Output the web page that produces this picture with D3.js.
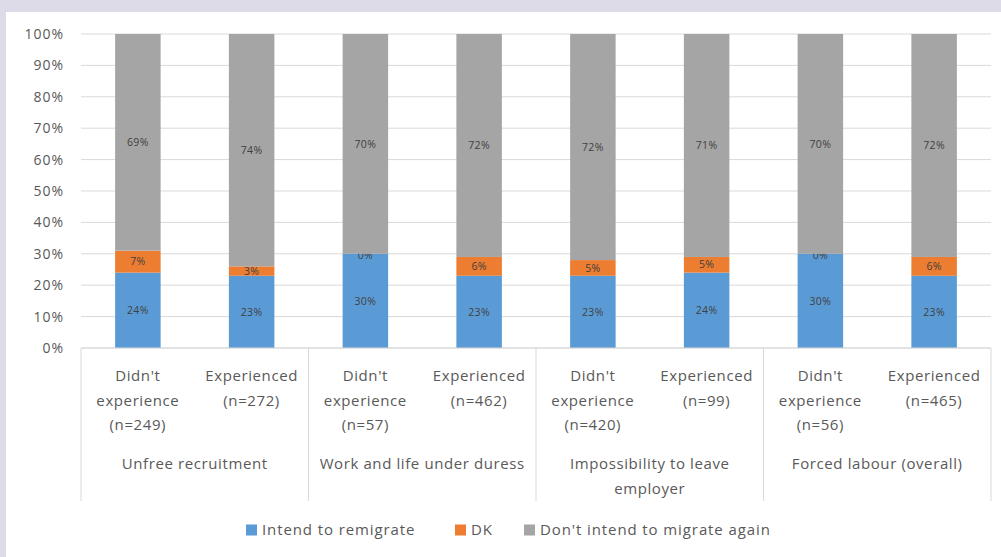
<!DOCTYPE html>
<html>
<head>
<meta charset="utf-8">
<script src="https://cdn.jsdelivr.net/npm/d3@7"></script>
<style>
  body { margin: 0; background: #dddbe7; }
  svg { display: block; }
</style>
</head>
<body>
<svg id="chart" width="1001" height="557"></svg>
<script>
// data
const bars = ["UR-no", "UR-yes", "WL-no", "WL-yes", "IL-no", "IL-yes", "FL-no", "FL-yes"];
const barLabels = [
  ["Didn't", "experience", "(n=249)"], ["Experienced", "(n=272)"],
  ["Didn't", "experience", "(n=57)"], ["Experienced", "(n=462)"],
  ["Didn't", "experience", "(n=420)"], ["Experienced", "(n=99)"],
  ["Didn't", "experience", "(n=56)"], ["Experienced", "(n=465)"]
];
const groups = [
  ["Unfree recruitment"], ["Work and life under duress"],
  ["Impossibility to leave", "employer"], ["Forced labour (overall)"]
];
const intend = [24, 23, 30, 23, 23, 24, 30, 23];
const dk = [7, 3, 0, 6, 5, 5, 0, 6];
const notIntend = [69, 74, 70, 72, 72, 71, 70, 72];
const seriesNames = ["Intend to remigrate", "DK", "Don't intend to migrate again"];
const colors = ["#5b9bd5", "#ed7d31", "#a5a5a5"];
const yTicks = [0, 10, 20, 30, 40, 50, 60, 70, 80, 90, 100];

const svg = d3.select("#chart");
const font = "'Open Sans', sans-serif";

// white panel
svg.append("rect").attr("x", 6).attr("y", 12).attr("width", 995).attr("height", 545).attr("fill", "#fff");

const margin = {left: 81, right: 10, top: 34, bottom: 209};
const W = 1001, H = 557;
const x = d3.scaleBand().domain(bars).range([margin.left, W - margin.right]).paddingInner(0.6).paddingOuter(0.3);
// rounded shares can add up past 100%, the chart stops at 100%
const y = d3.scaleLinear().domain([0, 100]).range([H - margin.bottom, margin.top]).clamp(true);

// gridlines
svg.append("g").selectAll("line").data(yTicks).join("line")
  .attr("x1", margin.left).attr("x2", W - margin.right)
  .attr("y1", d => y(d)).attr("y2", d => y(d))
  .attr("stroke", "#d9d9d9").attr("stroke-width", 1);

// y axis labels
svg.append("g").selectAll("text").data(yTicks).join("text")
  .attr("x", 64).attr("y", d => y(d)).attr("dy", "0.35em")
  .attr("text-anchor", "end").attr("font-family", font).attr("font-size", 14)
  .attr("letter-spacing", 1)
  .attr("fill", "#595959").text(d => d + "%");

// stacked data
const rows = bars.map((b, i) => ({key: b, s0: intend[i], s1: dk[i], s2: notIntend[i]}));
const stack = d3.stack().keys(["s0", "s1", "s2"])(rows);

const layer = svg.append("g").selectAll("g").data(stack).join("g")
  .attr("fill", (d, i) => colors[i]);
layer.selectAll("rect").data(d => d).join("rect")
  .attr("x", d => x(d.data.key)).attr("width", x.bandwidth())
  .attr("y", d => y(d[1])).attr("height", d => y(d[0]) - y(d[1]));

// value labels
layer.selectAll("text").data(d => d).join("text")
  .attr("x", d => x(d.data.key) + x.bandwidth() / 2)
  .attr("y", d => d[1] - d[0] < 2 ? y(d[0]) + 2 : (y(d[0]) + y(d[1])) / 2)
  .attr("dy", "0.35em").attr("text-anchor", "middle")
  .attr("font-family", font).attr("font-size", 10.5).attr("letter-spacing", 0.4)
  .attr("fill", "#404040")
  .text(d => (d[1] - d[0]) + "%");

// x axis base and separators
const x0 = margin.left, x1 = W - margin.right;
svg.append("line").attr("x1", x0).attr("x2", x1).attr("y1", y(0)).attr("y2", y(0))
  .attr("stroke", "#d9d9d9");
const seps = d3.range(groups.length + 1).map(i => x0 + (x1 - x0) * i / groups.length);
svg.append("g").selectAll("line").data(seps).join("line")
  .attr("x1", d => d).attr("x2", d => d).attr("y1", y(0)).attr("y2", 501)
  .attr("stroke", "#d9d9d9");

// bar category labels
svg.append("g").selectAll("text").data(bars).join("text")
  .attr("x", d => x(d) + x.bandwidth() / 2).attr("y", 381)
  .attr("text-anchor", "middle").attr("font-family", font).attr("font-size", 15)
  .attr("letter-spacing", 0.6).attr("fill", "#595959")
  .selectAll("tspan").data((d, i) => barLabels[i]).join("tspan")
  .attr("x", function() { return d3.select(this.parentNode).attr("x"); })
  .attr("dy", (d, i) => i ? 24.5 : 0).text(d => d);

// group labels
svg.append("g").selectAll("text").data(groups).join("text")
  .attr("x", (d, i) => (seps[i] + seps[i + 1]) / 2).attr("y", 469)
  .attr("text-anchor", "middle").attr("font-family", font).attr("font-size", 15)
  .attr("letter-spacing", 0.6).attr("fill", "#595959")
  .selectAll("tspan").data(d => d).join("tspan")
  .attr("x", function() { return d3.select(this.parentNode).attr("x"); })
  .attr("dy", (d, i) => i ? 24.5 : 0).text(d => d);

// legend
const legendX = [246, 455, 524];
const leg = svg.append("g").selectAll("g").data(seriesNames).join("g")
  .attr("transform", (d, i) => `translate(${legendX[i]},530)`);
leg.append("rect").attr("x", 0).attr("y", -5.5).attr("width", 11).attr("height", 11)
  .attr("fill", (d, i) => colors[i]);
leg.append("text").attr("x", 16).attr("dy", "0.35em")
  .attr("font-family", font).attr("font-size", 15).attr("letter-spacing", 0.9)
  .attr("fill", "#595959").text(d => d);
</script>
</body>
</html>
